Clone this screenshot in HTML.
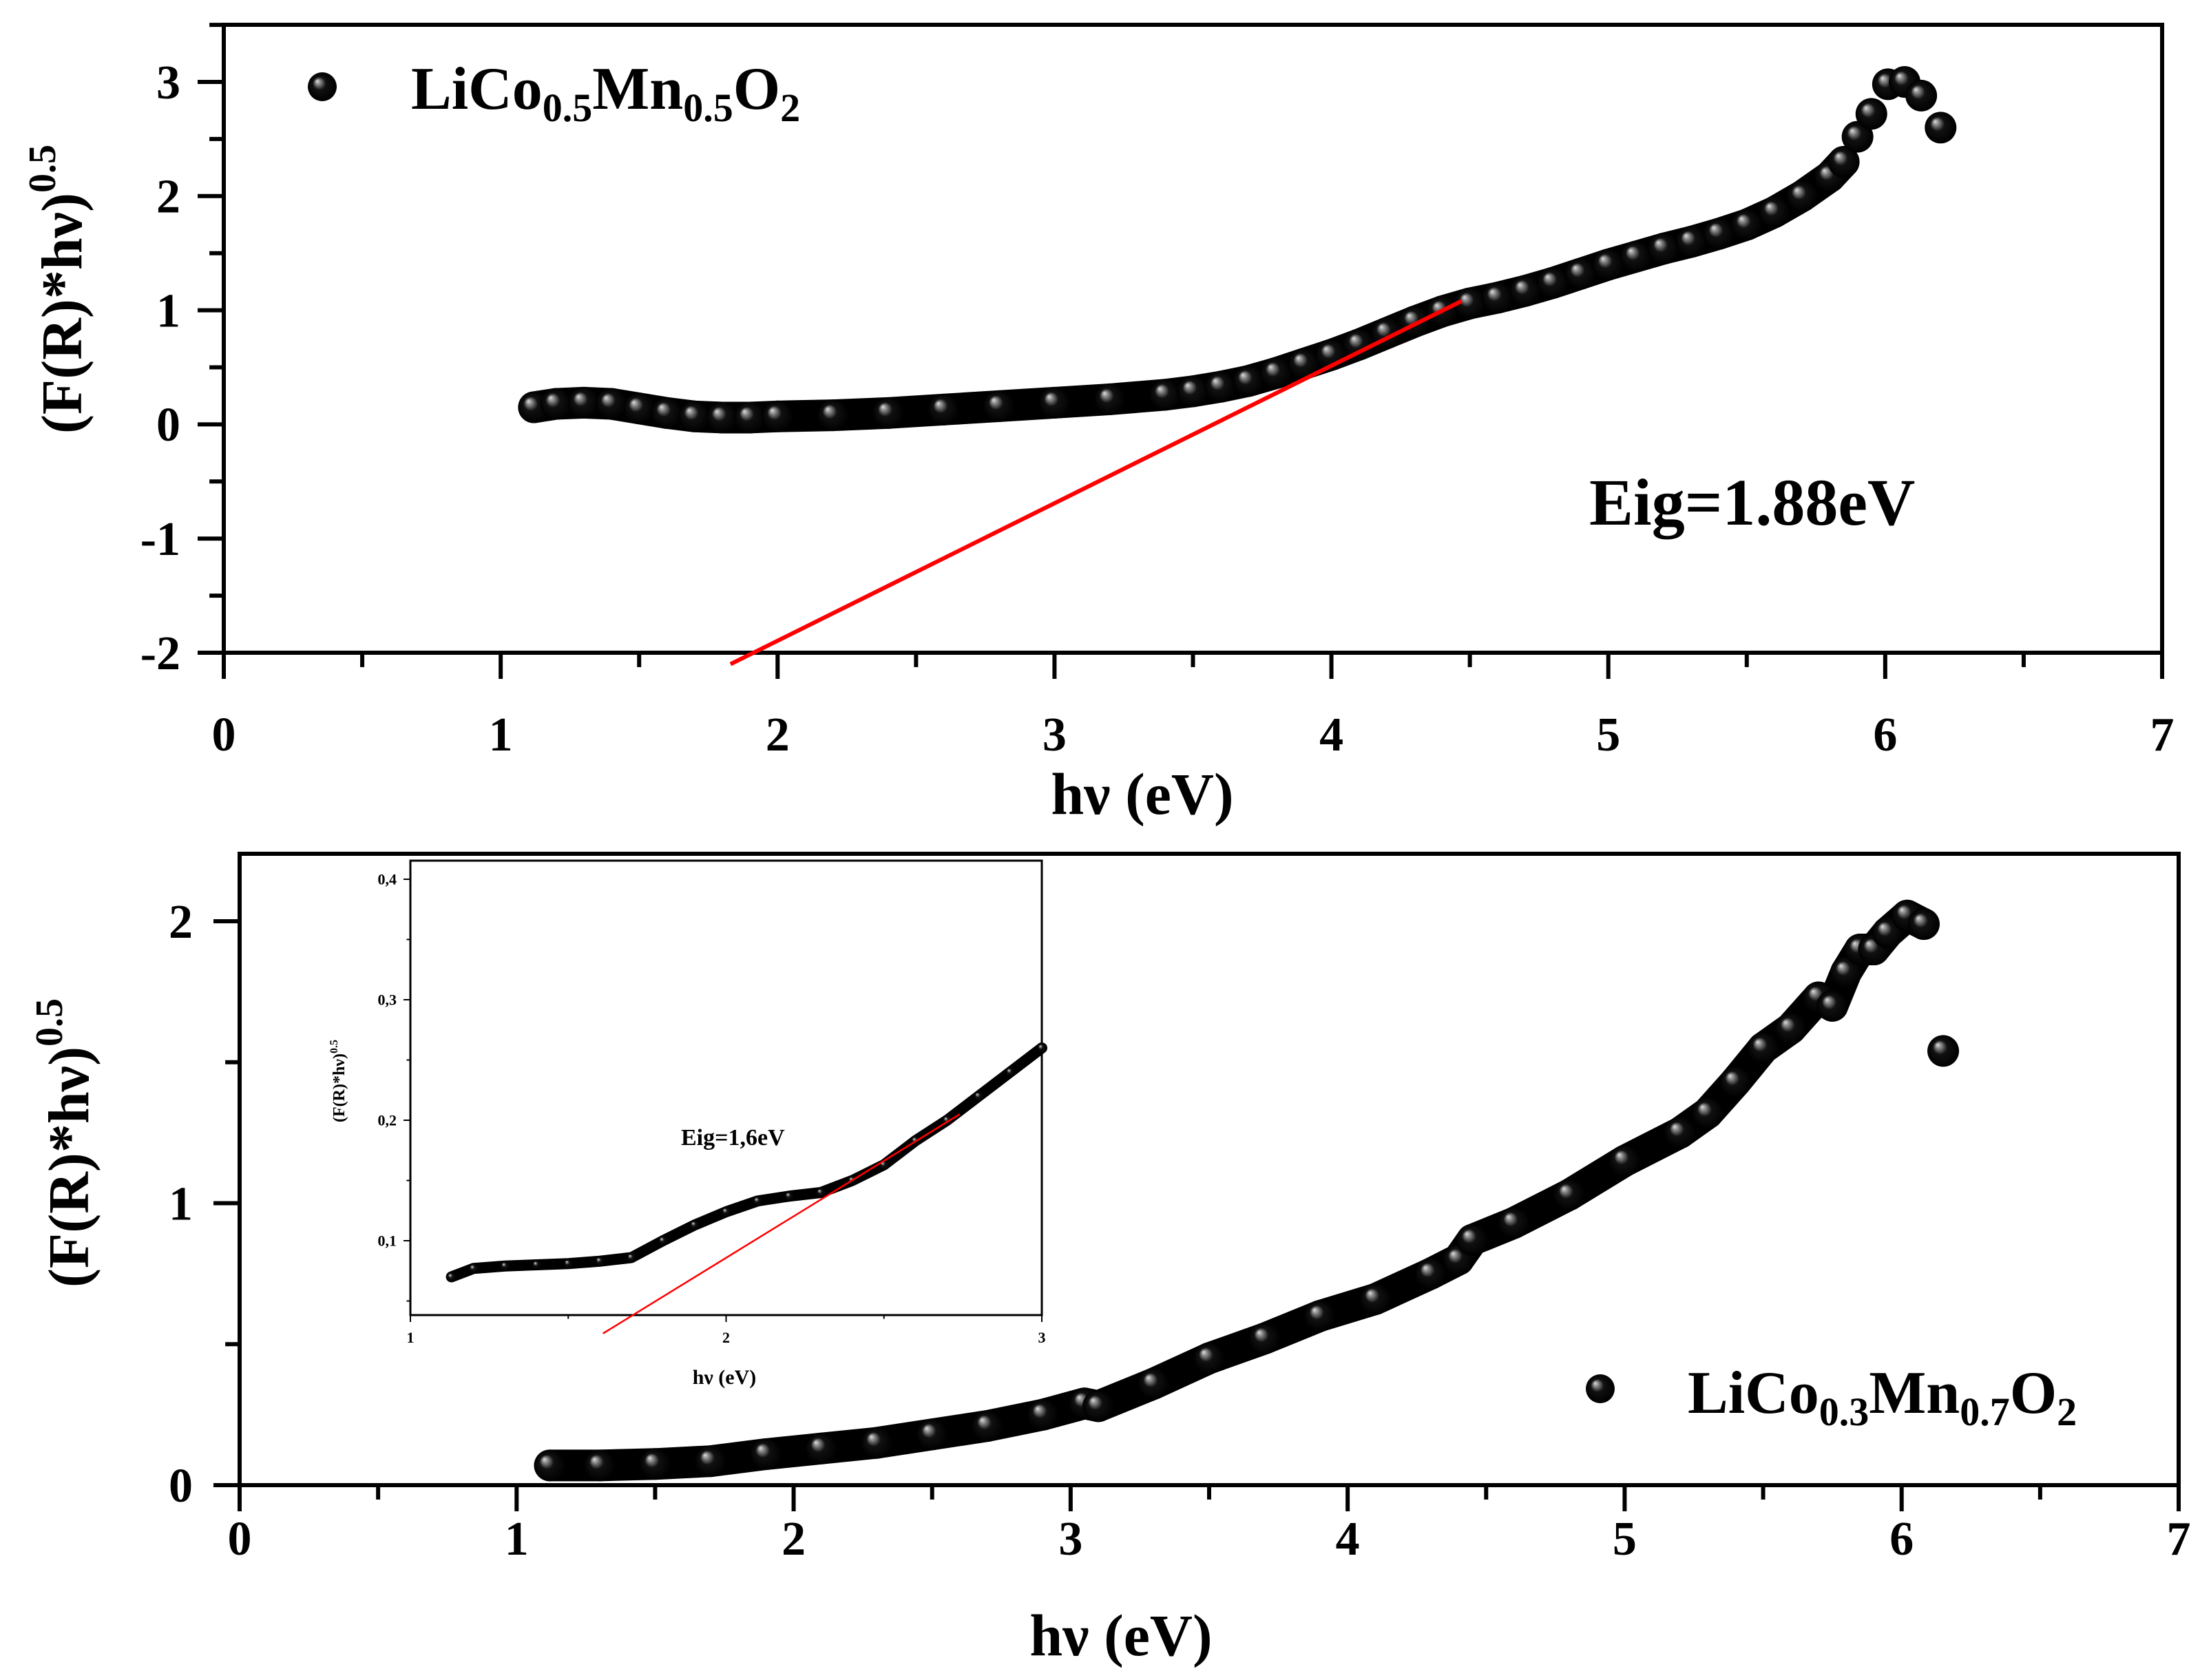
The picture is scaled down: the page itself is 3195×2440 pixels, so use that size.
<!DOCTYPE html>
<html><head><meta charset="utf-8"><style>
html,body{margin:0;padding:0;background:#fff}
svg{display:block}
text{font-family:"Liberation Serif",serif;font-weight:bold;fill:#000}
</style></head><body>
<svg id="chart" width="3195" height="2440" viewBox="0 0 3195 2440">
<defs>
<radialGradient id="sph" cx="50%" cy="50%" r="50%" fx="32%" fy="30%">
<stop offset="0" stop-color="#e0e0e0"/><stop offset="0.18" stop-color="#888"/><stop offset="0.45" stop-color="#111"/><stop offset="1" stop-color="#000"/>
</radialGradient>
</defs>
<g id="top"></g>
<g id="bot"></g>
<g id="ins"></g>
</svg>
<script>
// ---- top panel data ----
const topX = [1.12,1.2,1.3,1.4,1.5,1.6,1.7,1.8,1.9,2.0,2.2,2.4,2.6,2.8,3.0,3.2,3.4,3.5,3.6,3.7,3.8,3.9,4.0,4.1,4.2,4.3,4.4,4.5,4.6,4.7,4.8,4.9,5.0,5.1,5.2,5.3,5.4,5.5,5.6,5.7,5.8,5.85,5.9,5.95,6.01,6.07,6.13,6.2];
const topY = [0.15,0.18,0.19,0.18,0.14,0.1,0.07,0.06,0.06,0.07,0.08,0.1,0.13,0.16,0.19,0.22,0.26,0.29,0.33,0.38,0.45,0.53,0.61,0.7,0.8,0.9,0.99,1.06,1.11,1.17,1.24,1.32,1.4,1.47,1.54,1.6,1.67,1.75,1.86,2.0,2.17,2.3,2.52,2.72,2.98,3.0,2.88,2.6];
const topFitX = [1.83,4.47];
const topFitY = [-2.1,1.08];
const topXTicks = ['0','1','2','3','4','5','6','7'];
const topYTicks = ['-2','-1','0','1','2','3'];
// ---- bottom panel data ----
const botX = [1.12,1.3,1.5,1.7,1.9,2.1,2.3,2.5,2.7,2.9,3.05,3.1,3.3,3.5,3.7,3.9,4.1,4.3,4.4,4.45,4.6,4.8,5.0,5.2,5.3,5.4,5.5,5.6,5.7,5.75,5.8,5.85,5.9,5.95,6.02,6.08,6.15];
const botY = [0.07,0.07,0.075,0.085,0.11,0.13,0.15,0.18,0.21,0.25,0.29,0.28,0.36,0.45,0.52,0.6,0.66,0.75,0.8,0.87,0.93,1.03,1.15,1.25,1.32,1.43,1.55,1.62,1.73,1.7,1.82,1.9,1.9,1.96,2.02,1.99,1.54];
const botXTicks = ['0','1','2','3','4','5','6','7'];
const botYTicks = ['0','1','2'];
// ---- inset data ----
const insX = [1.13,1.2,1.3,1.4,1.5,1.6,1.7,1.8,1.9,2.0,2.1,2.2,2.3,2.4,2.5,2.6,2.7,2.8,2.9,3.0];
const insY = [0.07,0.077,0.079,0.08,0.081,0.083,0.086,0.1,0.113,0.124,0.133,0.137,0.14,0.15,0.163,0.183,0.2,0.22,0.24,0.26];
const insFitX = [1.61,2.74];
const insFitY = [0.023,0.205];
const insXTicks = ['1','2','3'];
const insYTicks = ['0,1','0,2','0,3','0,4'];

const NS='http://www.w3.org/2000/svg';
function mk(parent,tag,attrs,txt){const e=document.createElementNS(NS,tag);for(const k in attrs)e.setAttribute(k,attrs[k]);if(txt!==undefined)e.textContent=txt;parent.appendChild(e);return e;}
function lin(d0,d1,r0,r1){return v=>r0+(v-d0)/(d1-d0)*(r1-r0);}

function panel(g,o){
  const sx=lin(o.x0,o.x1,o.L,o.R), sy=lin(o.ya,o.yb,o.Ya,o.Yb);
  const fr=mk(g,'rect',{x:o.L,y:o.T,width:o.R-o.L,height:o.B-o.T,fill:'none',stroke:'#000','stroke-width':o.sw});
  
  
  for(let v=o.x0;v<=o.x1+1e-9;v+=o.xminor){
    const major=Math.abs(v/o.xmajor-Math.round(v/o.xmajor))<1e-6;
    const t=mk(g,'line',{x1:sx(v),x2:sx(v),y1:o.B,y2:o.B+(major?o.tl:o.tl*0.55),stroke:'#000','stroke-width':o.tw});
    
    
  }
  o.xt.forEach((s,i)=>{const v=o.x0+i*o.xmajor;
    const t=mk(g,'text',{x:sx(v),y:o.xly,'font-size':o.tf,'text-anchor':'middle'},s);
    
    });
  for(let v=o.ytick0;sy(v)>=o.T-1;v+=o.yminor){
    if(sy(v)>o.B+1) continue;
    const major=Math.abs((v-o.ylab0)/o.ymajor-Math.round((v-o.ylab0)/o.ymajor))<1e-6;
    const t=mk(g,'line',{x1:o.L,x2:o.L-(major?o.tl:o.tl*0.55),y1:sy(v),y2:sy(v),stroke:'#000','stroke-width':o.tw});
    
    
  }
  o.yt.forEach((s,i)=>{const v=o.ylab0+i*o.ymajor;
    const t=mk(g,'text',{x:o.ylx,y:sy(v)+o.tf*0.34,'font-size':o.tf,'text-anchor':'end'},s);
    
    });
  return {sx,sy};
}
function series(g,s,xs,ys,r,band,bandEnd){
  let d='';xs.forEach((x,i)=>{if(i<bandEnd)d+=(i?'L':'M')+s.sx(x)+' '+s.sy(ys[i]);});
  const p=mk(g,'path',{d:d,fill:'none',stroke:'#000','stroke-width':band,'stroke-linejoin':'round','stroke-linecap':'round'});
  
  
  xs.forEach((x,i)=>{const c=mk(g,'circle',{cx:s.sx(x),cy:s.sy(ys[i]),r:r,fill:'url(#sph)'});
    
    });
}
function fit(g,s,xs,ys,w){
  const l=mk(g,'line',{x1:s.sx(xs[0]),y1:s.sy(ys[0]),x2:s.sx(xs[1]),y2:s.sy(ys[1]),stroke:'#f00','stroke-width':w});
  
  
}

// TOP
const gT=document.getElementById('top');
const sT=panel(gT,{L:325,R:3140,T:36,B:948,x0:0,x1:7,ya:-2,yb:3,Ya:948,Yb:119,ytick0:-2,ylab0:-2,xmajor:1,xminor:0.5,ymajor:1,yminor:0.5,sw:6,tw:6,tl:38,tf:70,xly:1090,ylx:262,xt:topXTicks,yt:topYTicks});
series(gT,sT,topX,topY,23,46,42);
fit(gT,sT,topFitX,topFitY,6);
gT.insertAdjacentHTML('beforeend',`
<circle cx="468" cy="126" r="21" fill="url(#sph)"/>
<text x="597" y="158" font-size="88">LiCo<tspan font-size="58" dy="18">0.5</tspan><tspan dy="-18">Mn</tspan><tspan font-size="58" dy="18">0.5</tspan><tspan dy="-18">O</tspan><tspan font-size="58" dy="18">2</tspan></text>
<text x="2308" y="762" font-size="96">Eig=1.88eV</text>
<text x="1659" y="1182" font-size="86" text-anchor="middle">hν (eV)</text>
<text transform="translate(118,420) rotate(-90)" font-size="84" text-anchor="middle">(F(R)*hν)<tspan font-size="56" dy="-38">0.5</tspan></text>`);

// BOTTOM
const gB=document.getElementById('bot');
const sB=panel(gB,{L:348,R:3164,T:1240,B:2157,x0:0,x1:7,ya:0,yb:2,Ya:2157,Yb:1338,ytick0:0,ylab0:0,xmajor:1,xminor:0.5,ymajor:1,yminor:0.5,sw:6,tw:6,tl:38,tf:70,xly:2258,ylx:280,xt:botXTicks,yt:botYTicks});
series(gB,sB,botX,botY,23,46,36);
gB.insertAdjacentHTML('beforeend',`
<circle cx="2324" cy="2017" r="21" fill="url(#sph)"/>
<text x="2451" y="2052" font-size="88">LiCo<tspan font-size="58" dy="18">0.3</tspan><tspan dy="-18">Mn</tspan><tspan font-size="58" dy="18">0.7</tspan><tspan dy="-18">O</tspan><tspan font-size="58" dy="18">2</tspan></text>
<text x="1628" y="2404" font-size="86" text-anchor="middle">hν (eV)</text>
<text transform="translate(128,1660) rotate(-90)" font-size="84" text-anchor="middle">(F(R)*hν)<tspan font-size="56" dy="-38">0.5</tspan></text>`);

// INSET
const gI=document.getElementById('ins');
mk(gI,'rect',{x:596,y:1250,width:917,height:660,fill:'#fff'});
const sI=panel(gI,{L:596,R:1513,T:1250,B:1910,x0:1,x1:3,ya:0.1,yb:0.4,Ya:1802,Yb:1277,ytick0:0.05,ylab0:0.1,xmajor:1,xminor:0.5,ymajor:0.1,yminor:0.05,sw:3,tw:2,tl:10,tf:22,xly:1950,ylx:576,xt:insXTicks,yt:insYTicks});
series(gI,sI,insX,insY,7,16,20);
fit(gI,sI,insFitX,insFitY,2.5);
gI.insertAdjacentHTML('beforeend',`
<text x="989" y="1663" font-size="34">Eig=1,6eV</text>
<text x="1052" y="2010" font-size="30" text-anchor="middle">hν (eV)</text>
<text transform="translate(500,1570) rotate(-90)" font-size="24" text-anchor="middle">(F(R)*hν)<tspan font-size="16" dy="-10">0.5</tspan></text>`);
</script>
</body></html>
